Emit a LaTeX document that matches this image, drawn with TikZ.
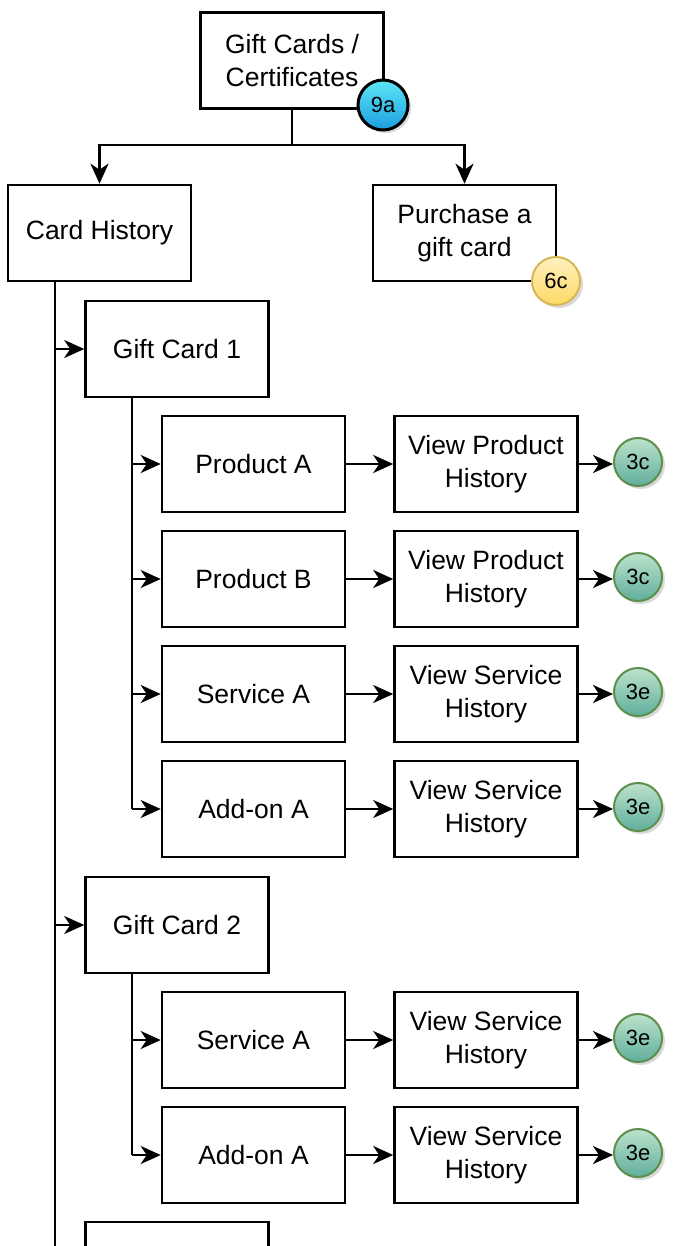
\documentclass[tikz,border=0pt]{standalone}
\usepackage{fontspec}
\setmainfont{Liberation Sans}
\usetikzlibrary{arrows.meta,shadows}
\definecolor{gA}{HTML}{BDE3CC}
\definecolor{gB}{HTML}{5FAE9C}
\definecolor{gE}{HTML}{5E8E4C}
\definecolor{cA}{HTML}{5CE6F7}
\definecolor{cB}{HTML}{1B9EE0}
\definecolor{yA}{HTML}{FFF0BE}
\definecolor{yB}{HTML}{FFD966}
\definecolor{yE}{HTML}{D6B656}
\tikzset{
  box/.style={draw, line width=2.6pt, fill=white, minimum width=183pt, minimum height=96pt, inner sep=0pt, align=center, font=\fontsize{26.5}{32.5}\selectfont},
  con/.style={line width=2.6pt},
  arr/.style={line width=2.6pt, -{Stealth[length=20pt,width=18pt,inset=6pt]}},
  badge/.style={circle, minimum size=48pt, inner sep=0pt, font=\fontsize{22}{23}\selectfont, drop shadow={shadow xshift=3pt, shadow yshift=-3pt, opacity=0.3}},
  gbadge/.style={badge, draw=gE, line width=2pt, top color=gA, bottom color=gB},
  cbadge/.style={badge, minimum size=50pt, draw=black, line width=3pt, top color=cA, bottom color=cB},
  ybadge/.style={badge, draw=yE, line width=2pt, top color=yA, bottom color=yB},
}
\begin{document}
\begin{tikzpicture}[x=1pt,y=-1pt]
\useasboundingbox (0,0) rectangle (685,1246);
\clip (0,0) rectangle (685,1246);
\coordinate (trunk) at (55,0);
\coordinate (stem) at (132,0);
\node[box] (top) at (292,60.5) {Gift Cards /\\Certificates};
\node[box] (ch) at (99.5,233) {Card History};
\node[box] (buy) at (464.5,233) {Purchase a\\gift card};
\node[cbadge] (b9a) at (383,105) {9a};
\node[ybadge] (b6c) at (556,281) {6c};
\coordinate (split) at (292,145);
\draw[con] (top.south) -- (split);
\draw[arr] (split) -| (ch.north);
\draw[arr] (split) -| (buy.north);
% gift card 1
\node[box] (gc1) at (177,349) {Gift Card 1};
\node[box] (p1) at (253.5,464) {Product A};
\node[box] (p2) at (253.5,579) {Product B};
\node[box] (p3) at (253.5,694) {Service A};
\node[box] (p4) at (253.5,809) {Add-on A};
\node[box] (v1) at (486,464) {View Product\\History};
\node[box] (v2) at (486,579) {View Product\\History};
\node[box] (v3) at (486,694) {View Service\\History};
\node[box] (v4) at (486,809) {View Service\\History};
\node[gbadge] (c1) at (638,462) {3c};
\node[gbadge] (c2) at (638,577) {3c};
\node[gbadge] (c3) at (638,692) {3e};
\node[gbadge] (c4) at (638,807) {3e};
% gift card 2
\node[box] (gc2) at (177,925) {Gift Card 2};
\node[box] (q1) at (253.5,1040) {Service A};
\node[box] (q2) at (253.5,1155) {Add-on A};
\node[box] (w1) at (486,1040) {View Service\\History};
\node[box] (w2) at (486,1155) {View Service\\History};
\node[gbadge] (d1) at (638,1038) {3e};
\node[gbadge] (d2) at (638,1153) {3e};
% next gift card (cut off)
\node[box] (gc3) at (177,1270) {};
% trunk
\draw[con] (ch.south -| trunk) -- (55,1250);
\draw[arr] (gc1.west -| trunk) -- (gc1.west);
\draw[arr] (gc2.west -| trunk) -- (gc2.west);
% stems
\draw[con] (gc1.south -| stem) -- (p4.west -| stem);
\draw[con] (gc2.south -| stem) -- (q2.west -| stem);
\foreach \n in {p1,p2,p3,p4,q1,q2} {
  \draw[arr] (\n.west -| stem) -- (\n.west);
}
\foreach \a/\b/\c in {p1/v1/c1,p2/v2/c2,p3/v3/c3,p4/v4/c4,q1/w1/d1,q2/w2/d2} {
  \draw[arr] (\a.east) -- (\b.west);
  \draw[arr] (\b.east) -- (\b.east -| \c.west);
}
\end{tikzpicture}
\end{document}
